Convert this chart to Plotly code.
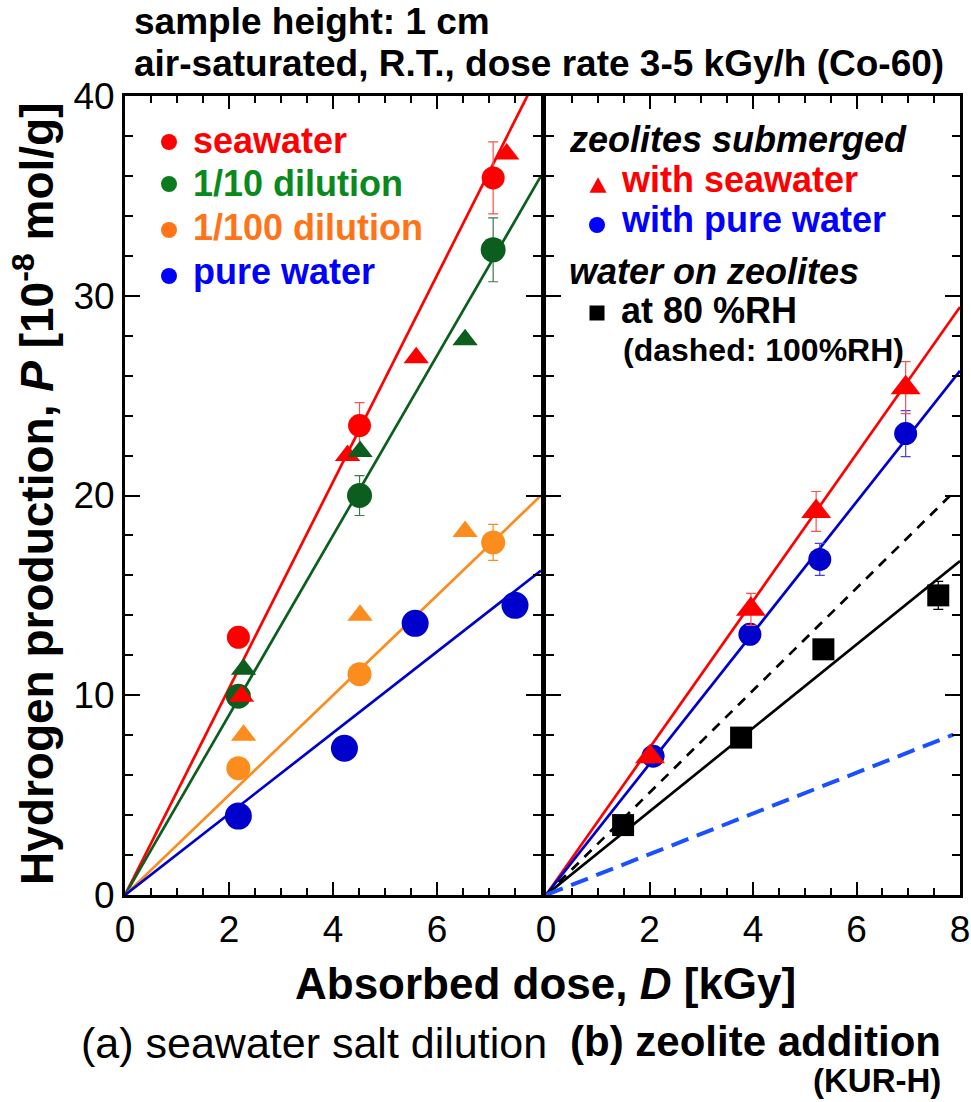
import plotly.graph_objects as go

W, H = 971, 1102
def px(x): return x / W
def py(y): return 1 - y / H

FONT = "Liberation Sans, Arial, sans-serif"

# ---------------- data: panel (a) seawater salt dilution ----------------
sea_circ_x = [2.18, 4.51, 7.08]
sea_circ_y = [12.9, 23.5, 35.9]
sea_circ_e = [0.45, 1.15, 1.8]
d10_circ_x = [2.18, 4.51, 7.08]
d10_circ_y = [9.95, 20.0, 32.3]
d10_circ_e = [0.3, 1.0, 1.6]
d100_circ_x = [2.18, 4.51, 7.08]
d100_circ_y = [6.35, 11.05, 17.65]
d100_circ_e = [0.2, 0.3, 0.9]
pure_circ_x = [2.18, 4.22, 5.58, 7.5]
pure_circ_y = [3.95, 7.35, 13.6, 14.5]
pure_circ_e = [0.2, 0.2, 0.3, 0.45]

sea_tri_x = [2.24, 4.28, 5.6, 7.34]
sea_tri_y = [9.95, 22.0, 26.9, 37.1]
d10_tri_x = [2.28, 4.52, 6.54]
d10_tri_y = [11.3, 22.2, 27.8]
d100_tri_x = [2.28, 4.52, 6.54]
d100_tri_y = [8.0, 14.0, 18.2]

left_fit_names = ["seawater", "1/10", "1/100", "pure"]
left_fit_slope = [5.17, 4.50, 2.50, 2.03]

# ---------------- data: panel (b) zeolite addition ----------------
zs_tri_x = [2.01, 3.96, 5.22, 6.95]
zs_tri_y = [6.92, 14.3, 19.2, 25.4]
zs_tri_e = [0.3, 0.8, 1.0, 1.3]
zp_circ_x = [2.07, 3.94, 5.29, 6.95]
zp_circ_y = [6.95, 13.05, 16.8, 23.1]
zp_circ_e = [0.2, 0.5, 0.8, 1.15]
rh_sq_x = [1.49, 3.77, 5.36, 7.58]
rh_sq_y = [3.5, 7.88, 12.3, 15.0]
rh_sq_e = [0.2, 0.2, 0.4, 0.7]

right_fit_slope = [3.68, 3.28, 2.09, 2.56, 1.02]
right_fit_end = [8.0, 8.0, 8.0, 7.85, 7.87]

x_ticks_left = [0, 2, 4, 6]
x_ticks_right = [0, 2, 4, 6, 8]
y_ticks = [0, 10, 20, 30, 40]

RED = "#ff0000"
GREEN = "#0b5e1e"
ORANGE = "#fb8c1e"
BLUE = "#0000cc"
DBLUE = "#1a50ff"

fig = go.Figure()

# fit lines, panel (a)
left_colors = [RED, GREEN, ORANGE, BLUE]
for s, c in zip(left_fit_slope, left_colors):
    fig.add_trace(go.Scatter(x=[0, 8], y=[0, s * 8], mode="lines",
                             line=dict(color=c, width=2.7), xaxis="x", yaxis="y",
                             showlegend=False, hoverinfo="skip"))

def pts(x, y, e, color, symbol, size, xa, ya, ecolor=None):
    kw = {}
    if e is not None:
        kw["error_y"] = dict(type="data", array=e, visible=True,
                             thickness=1.2, width=5, color=ecolor or color)
    fig.add_trace(go.Scatter(x=x, y=y, mode="markers",
                             marker=dict(color=color, symbol=symbol, size=size,
                                         line=dict(width=0)),
                             xaxis=xa, yaxis=ya, showlegend=False, **kw))

pts(pure_circ_x, pure_circ_y, pure_circ_e, BLUE, "circle", 27, "x", "y")
pts(d100_circ_x, d100_circ_y, d100_circ_e, ORANGE, "circle", 24, "x", "y")
pts(d10_circ_x, d10_circ_y, d10_circ_e, GREEN, "circle", 25, "x", "y", "#3d7a4b")
pts(sea_circ_x, sea_circ_y, sea_circ_e, RED, "circle", 23, "x", "y", "#ff5050")
pts(d100_tri_x, d100_tri_y, None, ORANGE, "triangle-up", 22, "x", "y")
pts(sea_tri_x, sea_tri_y, None, RED, "triangle-up", 22, "x", "y")
pts(d10_tri_x, d10_tri_y, None, GREEN, "triangle-up", 22, "x", "y")

# fit lines, panel (b)
right_styles = [(RED, 2.7, "solid"), (BLUE, 2.7, "solid"), ("black", 2.7, "solid"),
                ("black", 2.7, "10px,8px"), (DBLUE, 4, "18px,9px")]
for s, xe, (c, w, d) in zip(right_fit_slope, right_fit_end, right_styles):
    fig.add_trace(go.Scatter(x=[0, xe], y=[0, s * xe], mode="lines",
                             line=dict(color=c, width=w, dash=d), xaxis="x2", yaxis="y2",
                             showlegend=False, hoverinfo="skip"))

pts(rh_sq_x, rh_sq_y, rh_sq_e, "black", "square", 22, "x2", "y2")
pts(zp_circ_x, zp_circ_y, zp_circ_e, BLUE, "circle", 23, "x2", "y2", "#4040ee")
pts(zs_tri_x, zs_tri_y, zs_tri_e, RED, "triangle-up", 26, "x2", "y2", "#ff5050")

x0L, x1L = 125, 541
x0R, x1R = 546, 960
yT, yB = 96, 895

axis_common = dict(showline=True, linewidth=3, linecolor="black", mirror="allticks",
                   ticks="inside", tickcolor="black", showgrid=False, zeroline=False,
                   automargin=False,
                   tickfont=dict(family=FONT, size=37, color="black"))

fig.update_layout(
    template="none",
    width=W, height=H, margin=dict(l=0, r=0, t=0, b=0, pad=0, autoexpand=False),
    paper_bgcolor="white", plot_bgcolor="white", showlegend=False,
    font=dict(family=FONT, color="black"),
    xaxis=dict(domain=[px(x0L), px(x1L)], range=[0, 8], anchor="y",
               tickvals=x_ticks_left, ticklen=13, tickwidth=2,
               minor=dict(dtick=0.5, tick0=0, ticks="inside", ticklen=7, tickwidth=1.5, tickcolor="black"),
               **axis_common),
    yaxis=dict(domain=[py(yB), py(yT)], range=[0, 40], anchor="x",
               tickvals=y_ticks, ticklen=15, tickwidth=2,
               minor=dict(dtick=2, tick0=0, ticks="inside", ticklen=8, tickwidth=1.5, tickcolor="black"),
               **axis_common),
    xaxis2=dict(domain=[px(x0R), px(x1R)], range=[0, 8], anchor="y2",
                tickvals=x_ticks_right, ticklen=13, tickwidth=2,
                minor=dict(dtick=0.5, tick0=0, ticks="inside", ticklen=7, tickwidth=1.5, tickcolor="black"),
                **axis_common),
    yaxis2=dict(domain=[py(yB), py(yT)], range=[0, 40], anchor="x2",
                tickvals=y_ticks, ticklen=15, tickwidth=2, showticklabels=False,
                minor=dict(dtick=2, tick0=0, ticks="inside", ticklen=8, tickwidth=1.5, tickcolor="black"),
                **axis_common),
)

ann = []
def text(x, y, t, size, color="black", anchor="left", angle=0):
    ann.append(dict(x=px(x), y=py(y), xref="paper", yref="paper", text=t,
                    showarrow=False, xanchor=anchor, yanchor="middle", textangle=angle,
                    borderpad=0,
                    font=dict(family=FONT, size=size, color=color)))

text(133, 22, "<b>sample height: 1 cm</b>", 37)
text(133, 63, "<b>air-saturated, R.T., dose rate 3-5 kGy/h (Co-60)</b>", 37)

# left legend
text(192, 140, "<b>seawater</b>", 36, RED)
text(192, 184, "<b>1/10 dilution</b>", 36, "#0a8a1e")
text(192, 228, "<b>1/100 dilution</b>", 36, "#ff7418")
text(192, 272, "<b>pure water</b>", 36, "#0000ff")

# right legend
text(568, 139, "<b><i>zeolites submerged</i></b>", 36)
text(620, 179, "<b>with seawater</b>", 36, RED)
text(620, 220, "<b>with pure water</b>", 36, "#0000ff")
text(568, 272, "<b><i>water on zeolites</i></b>", 36)
text(620, 311, "<b>at 80 %RH</b>", 36)
text(622, 350, "<b>(dashed: 100%RH)</b>", 32)

# axis titles
text(34, 494, "<b>Hydrogen production, <i>P</i> [10<sup>-8</sup> mol/g]</b>", 46, anchor="center", angle=-90)
text(545, 983, "<b>Absorbed dose, <i>D</i> [kGy]</b>", 44, anchor="center")

# panel captions
text(314, 1043, "(a) seawater salt dilution", 43, anchor="center")
text(755, 1041, "<b>(b) zeolite addition</b>", 42, anchor="center")
text(877, 1080, "<b>(KUR-H)</b>", 33, anchor="center")

fig.update_layout(annotations=ann)

# legend symbols as shapes
shapes = []
def circ(cx, cy, d, color):
    shapes.append(dict(type="circle", xref="paper", yref="paper",
                       x0=px(cx - d / 2), x1=px(cx + d / 2), y0=py(cy + d / 2), y1=py(cy - d / 2),
                       fillcolor=color, line=dict(width=0)))
def tri(cx, cy, d, color):
    h = d * 0.9
    path = "M {},{} L {},{} L {},{} Z".format(px(cx - d / 2), py(cy + h / 2), px(cx + d / 2), py(cy + h / 2),
                                               px(cx), py(cy - h / 2))
    shapes.append(dict(type="path", xref="paper", yref="paper", path=path,
                       fillcolor=color, line=dict(width=0)))
def sq(cx, cy, d, color):
    shapes.append(dict(type="rect", xref="paper", yref="paper",
                       x0=px(cx - d / 2), x1=px(cx + d / 2), y0=py(cy + d / 2), y1=py(cy - d / 2),
                       fillcolor=color, line=dict(width=0)))

circ(169, 142, 16, RED)
circ(169, 184, 16, "#0a7a1e")
circ(169, 230, 16, "#ff7418")
circ(169, 276, 16, "#0000ff")
tri(598, 185, 17, RED)
circ(597, 225, 16, "#0000ff")
sq(597, 313, 15, "black")

fig.update_layout(shapes=shapes)

fig.write_html("out.html")
